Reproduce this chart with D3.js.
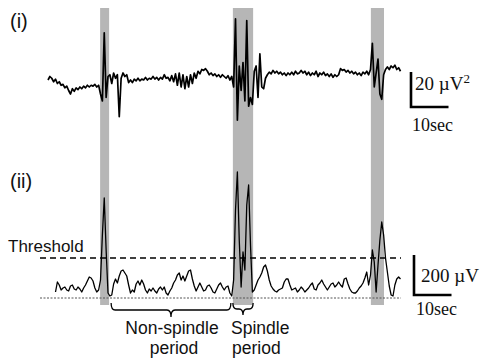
<!DOCTYPE html>
<html><head><meta charset="utf-8">
<script src="https://cdn.jsdelivr.net/npm/d3@7"></script>
<style>body{margin:0;background:#fff}</style>
</head><body>
<svg id="c" width="484" height="359"></svg>
<script>
// ---- data ----
const sampleStep = 0.5;      // seconds between samples
const eegStart = 0;          // s
const envStart = 2;          // s
// (i) filtered EEG power trace (μV², relative)
const eegValues = [
 0,2,1,-1,0.5,-2,-1,-3,-2.5,-4.5,-3.5,-6,-8,-5,-6.5,-4.5,-5.5,-4,-5,-3.5,-4.5,-3,-4,-3,-3.5,-2.5,-4,-3,
 -8,-12,27,-10,2,3,-2,4,1,3,-21,1,4,2,3,
 -1.5,0,-1.5,0.5,-0.5,1,-0.5,0.5,0,1.5,0,1,0.5,2,0.5,1.5,0,1.5,0.5,3,1,1.5,-0.5,2.5,
 -1,3.5,-3,4,-4,3,-5,2,-4,3,-2,4,1,5,3.5,6,5.5,6.5,
 5,3,4,2.5,3.5,2,3,1.5,3,2,1,2.5,0,2,
 -4,35,-23,8,-6,10,-12,34,-15,-10,-14,5,8,-10,15,-4,-5,
 1,3,4.5,3.5,5.5,4,5,3.5,4.5,3,4,2.5,4,3,4.5,3,5,3.5,4,5.5,4,5,3,4.5,2.5,4,3,5,2,4,3,4.5,2.5,3.5,2,3.5,1.5,3,2,3,
 6.5,5.5,6,4.5,5.5,4,5,3.5,4.5,3,4,2.5,4.5,3.5,5,3,
 6,21,-4,4,12,-8,-11,3,6,7.5,6,8,7,8.5,6,7,5
];
// (ii) envelope amplitude (μV)
const envValues = [
 30,80,65,40,50,55,40,35,60,65,45,40,55,45,30,50,65,85,105,100,85,50,30,40,
 90,315,500,240,25,10,15,70,95,75,110,135,140,125,110,
 65,25,40,30,70,85,65,90,70,40,25,45,35,50,35,25,45,55,40,55,25,15,35,50,
 75,90,115,125,90,110,85,110,135,140,95,60,35,55,75,55,35,40,
 60,65,50,30,25,45,65,75,55,40,55,60,25,10,
 90,440,630,290,55,230,140,465,565,265,30,40,65,90,105,125,155,
 165,135,90,60,45,35,30,40,45,50,80,95,95,65,40,45,50,30,40,55,45,30,40,50,65,75,45,40,65,75,90,70,55,40,55,70,75,55,65,80,
 65,55,95,100,70,45,30,25,25,35,50,60,75,100,130,65,
 115,240,180,30,165,290,380,315,200,130,60,15,10,65,95,105,95
];
const spindleBands = [[13.9,16.3],[49.3,54.7],[86.1,89.6]]; // seconds
const thresholdValue = 200;   // μV
const panelLabels = ["(i)", "(ii)"];
const scaleBarEEG = [20, 10];  // μV², sec
const scaleBarEnv = [200, 10]; // μV, sec

// ---- scales ----
const svg = d3.select("#c");
const x = d3.scaleLinear().domain([0, 94]).range([48, 400.5]);
const yA = d3.scaleLinear().domain([-30, 40]).range([132.5, 10]);
const yB = d3.scaleLinear().domain([0, 700]).range([298, 158]);

const sans = "'Liberation Sans', Arial, Helvetica, sans-serif";
const serif = "'Liberation Serif', 'Times New Roman', serif";

// bands
svg.append("g").selectAll("rect").data(spindleBands).join("rect")
  .attr("x", d => x(d[0])).attr("width", d => x(d[1]) - x(d[0]))
  .attr("y", 8).attr("height", 297)
  .attr("fill", "#b6b6b6");

// baseline (dotted) and threshold (dashed)
svg.append("line").attr("x1", 40).attr("x2", 401).attr("y1", yB(0)).attr("y2", yB(0))
  .attr("stroke", "#555").attr("stroke-width", 1).attr("stroke-dasharray", "2,1.5");
svg.append("line").attr("x1", 40).attr("x2", 401).attr("y1", yB(thresholdValue)).attr("y2", yB(thresholdValue))
  .attr("stroke", "#000").attr("stroke-width", 1.4).attr("stroke-dasharray", "6,4");

// traces
const eegLine = d3.line().x((d, i) => x(eegStart + i * sampleStep)).y(d => yA(d));
svg.append("path").datum(eegValues).attr("d", eegLine)
  .attr("fill", "none").attr("stroke", "#000").attr("stroke-width", 1.7).attr("stroke-linejoin", "round");
const envLine = d3.line().x((d, i) => x(envStart + i * sampleStep)).y(d => yB(d));
svg.append("path").datum(envValues).attr("d", envLine)
  .attr("fill", "none").attr("stroke", "#000").attr("stroke-width", 1.3).attr("stroke-linejoin", "round");

// panel labels
svg.append("text").attr("x", 10).attr("y", 28).text(panelLabels[0])
  .attr("font-family", sans).attr("font-size", 20).attr("fill", "#111");
svg.append("text").attr("x", 10).attr("y", 188).text(panelLabels[1])
  .attr("font-family", sans).attr("font-size", 20).attr("fill", "#111");

svg.append("text").attr("x", 8).attr("y", 252).text("Threshold")
  .attr("font-family", sans).attr("font-size", 17).attr("fill", "#111");

// scale bars
function scaleBar(x0, yBase, vLen, hLen) {
  svg.append("path").attr("d", `M${x0},${yBase - vLen} L${x0},${yBase} L${x0 + hLen},${yBase}`)
    .attr("fill", "none").attr("stroke", "#000").attr("stroke-width", 2.6);
}
scaleBar(411, 107, yA(0) - yA(scaleBarEEG[0]), x(scaleBarEEG[1]) - x(0));
scaleBar(414, 295, yB(0) - yB(scaleBarEnv[0]), x(scaleBarEnv[1]) - x(0));

const t1 = svg.append("text").attr("x", 415).attr("y", 90)
  .attr("font-family", serif).attr("font-size", 19).attr("fill", "#111");
t1.append("tspan").text(scaleBarEEG[0] + " \u00b5V");
t1.append("tspan").text("2").attr("font-size", 13).attr("dy", -7);
svg.append("text").attr("x", 412).attr("y", 131).text(scaleBarEEG[1] + "sec")
  .attr("font-family", serif).attr("font-size", 18).attr("fill", "#111");
svg.append("text").attr("x", 421).attr("y", 282).text(scaleBarEnv[0] + " \u00b5V")
  .attr("font-family", serif).attr("font-size", 19).attr("fill", "#111");
svg.append("text").attr("x", 416).attr("y", 315).text(scaleBarEnv[1] + "sec")
  .attr("font-family", serif).attr("font-size", 18).attr("fill", "#111");

// braces
function brace(x0, x1, yTop, yMid, yTip) {
  const xm = (x0 + x1) / 2, r = 4;
  return `M${x0},${yTop} Q${x0},${yMid} ${x0 + r},${yMid} L${xm - r},${yMid} Q${xm},${yMid} ${xm},${yTip}` +
         ` Q${xm},${yMid} ${xm + r},${yMid} L${x1 - r},${yMid} Q${x1},${yMid} ${x1},${yTop}`;
}
const b1 = spindleBands[0], b2 = spindleBands[1];
svg.append("path").attr("d", brace(x(b1[1]) + 2, x(b2[0]) - 2, 303, 310, 317))
  .attr("fill", "none").attr("stroke", "#000").attr("stroke-width", 1.3);
svg.append("path").attr("d", brace(x(b2[0]), x(b2[1]), 303, 309, 315))
  .attr("fill", "none").attr("stroke", "#000").attr("stroke-width", 1.3);

const labStyle = s => s.attr("font-family", sans).attr("font-size", 17.5).attr("fill", "#111");
labStyle(svg.append("text").attr("x", 172).attr("y", 334).attr("text-anchor", "middle").text("Non-spindle"));
labStyle(svg.append("text").attr("x", 174).attr("y", 354).attr("text-anchor", "middle").text("period"));
labStyle(svg.append("text").attr("x", 231).attr("y", 334).text("Spindle"));
labStyle(svg.append("text").attr("x", 232).attr("y", 354).text("period"));
</script>
</body></html>
